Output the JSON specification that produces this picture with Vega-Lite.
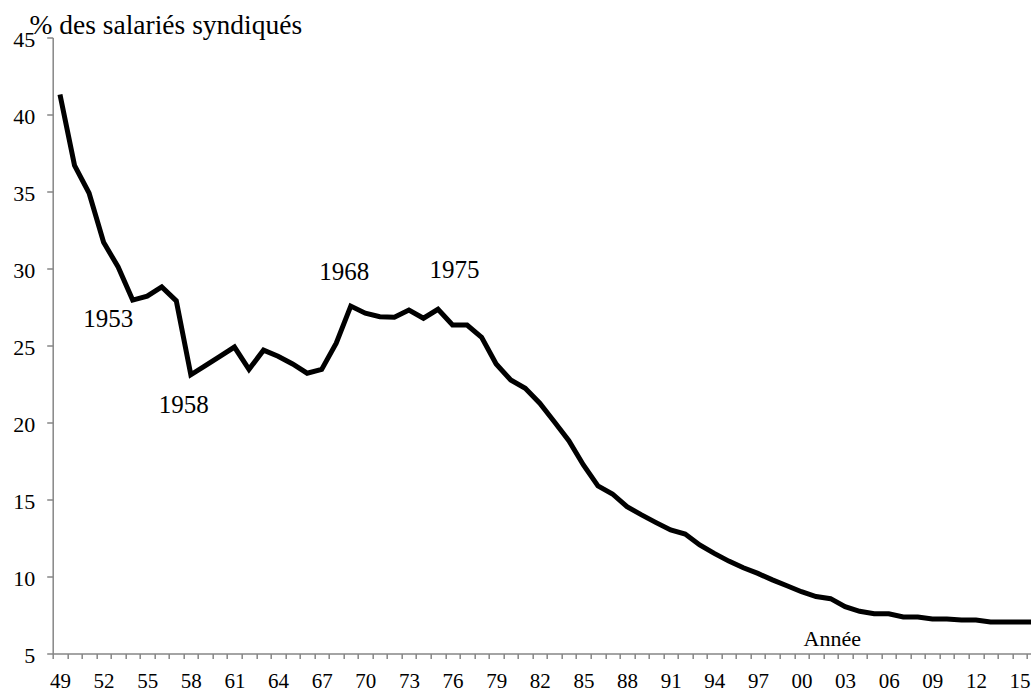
{
  "$schema": "https://vega.github.io/schema/vega-lite/v6.json",
  "autosize": {"type": "none"},
  "width": 978.3,
  "height": 616,
  "padding": {"left": 52.7, "top": 37.5, "right": 0, "bottom": 39.5},
  "background": "white",
  "config": {
    "view": {"stroke": null},
    "font": "'Liberation Serif', 'Times New Roman', serif"
  },
  "datasets": {
    "series": [
      {"year": 1949, "pct": 41.3}, {"year": 1950, "pct": 36.7}, {"year": 1951, "pct": 34.9},
      {"year": 1952, "pct": 31.7}, {"year": 1953, "pct": 30.1}, {"year": 1954, "pct": 27.95},
      {"year": 1955, "pct": 28.2}, {"year": 1956, "pct": 28.8}, {"year": 1957, "pct": 27.9},
      {"year": 1958, "pct": 23.1}, {"year": 1959, "pct": 23.7}, {"year": 1960, "pct": 24.3},
      {"year": 1961, "pct": 24.9}, {"year": 1962, "pct": 23.45}, {"year": 1963, "pct": 24.7},
      {"year": 1964, "pct": 24.3}, {"year": 1965, "pct": 23.8}, {"year": 1966, "pct": 23.2},
      {"year": 1967, "pct": 23.45}, {"year": 1968, "pct": 25.15}, {"year": 1969, "pct": 27.56},
      {"year": 1970, "pct": 27.1}, {"year": 1971, "pct": 26.87}, {"year": 1972, "pct": 26.83},
      {"year": 1973, "pct": 27.3}, {"year": 1974, "pct": 26.77}, {"year": 1975, "pct": 27.35},
      {"year": 1976, "pct": 26.33}, {"year": 1977, "pct": 26.33}, {"year": 1978, "pct": 25.53},
      {"year": 1979, "pct": 23.8}, {"year": 1980, "pct": 22.76}, {"year": 1981, "pct": 22.22},
      {"year": 1982, "pct": 21.25}, {"year": 1983, "pct": 20.05}, {"year": 1984, "pct": 18.82},
      {"year": 1985, "pct": 17.24}, {"year": 1986, "pct": 15.88}, {"year": 1987, "pct": 15.36},
      {"year": 1988, "pct": 14.53}, {"year": 1989, "pct": 14.0}, {"year": 1990, "pct": 13.5},
      {"year": 1991, "pct": 13.02}, {"year": 1992, "pct": 12.76}, {"year": 1993, "pct": 12.05},
      {"year": 1994, "pct": 11.5}, {"year": 1995, "pct": 11.0}, {"year": 1996, "pct": 10.57},
      {"year": 1997, "pct": 10.2}, {"year": 1998, "pct": 9.78}, {"year": 1999, "pct": 9.4},
      {"year": 2000, "pct": 9.01}, {"year": 2001, "pct": 8.7}, {"year": 2002, "pct": 8.56},
      {"year": 2003, "pct": 8.04}, {"year": 2004, "pct": 7.74}, {"year": 2005, "pct": 7.58},
      {"year": 2006, "pct": 7.58}, {"year": 2007, "pct": 7.37}, {"year": 2008, "pct": 7.37},
      {"year": 2009, "pct": 7.24}, {"year": 2010, "pct": 7.24}, {"year": 2011, "pct": 7.18},
      {"year": 2012, "pct": 7.18}, {"year": 2013, "pct": 7.05}, {"year": 2014, "pct": 7.05},
      {"year": 2015, "pct": 7.05}, {"year": 2016, "pct": 7.05}
    ],
    "notes": [
      {"year": 1953, "pct": 26.2, "label": "1953"},
      {"year": 1958, "pct": 20.6, "label": "1958"},
      {"year": 1968, "pct": 29.25, "label": "1968"},
      {"year": 1975, "pct": 29.4, "label": "1975"}
    ]
  },
  "encoding": {
    "x": {
      "field": "year",
      "type": "ordinal",
      "scale": {"type": "band", "paddingInner": 0, "paddingOuter": 0, "range": [0, 988.7]},
      "axis": {
        "title": "Année",
        "titleFontSize": 22,
        "titleFontWeight": "normal",
        "titleColor": "black",
        "titleX": 779,
        "titleY": -8,
        "titleAlign": "center",
        "titleBaseline": "alphabetic",
        "tickBand": "extent",
        "labelAngle": 0,
        "labelOverlap": false,
        "labelFontSize": 21,
        "labelColor": "black",
        "labelPadding": 12,
        "labelExpr": "(datum.value - 1949) % 3 == 0 ? substring(toString(datum.value), 2, 4) : ''",
        "domainColor": "#868686",
        "tickColor": "#868686",
        "tickSize": 5,
        "domainWidth": 1.5,
        "tickWidth": 1.5,
        "grid": false
      }
    },
    "y": {
      "field": "pct",
      "type": "quantitative",
      "scale": {"domain": [5, 45], "nice": false, "zero": false},
      "axis": {
        "values": [5, 10, 15, 20, 25, 30, 35, 40, 45],
        "title": "% des salariés syndiqués",
        "titleAngle": 0,
        "titleAlign": "left",
        "titleBaseline": "alphabetic",
        "titleX": -23.7,
        "titleY": -4,
        "titleFontSize": 27.5,
        "titleFontWeight": "normal",
        "titleColor": "black",
        "labelFontSize": 22,
        "labelColor": "black",
        "labelPadding": 12,
        "labelOffset": 2,
        "domainColor": "#868686",
        "tickColor": "#868686",
        "tickSize": 6,
        "domainWidth": 1.5,
        "tickWidth": 1.5,
        "grid": false
      }
    }
  },
  "layer": [
    {
      "data": {"name": "series"},
      "mark": {"type": "line", "color": "black", "strokeWidth": 5, "strokeJoin": "miter"}
    },
    {
      "data": {"name": "notes"},
      "transform": [{"filter": "datum.label == '1953'"}],
      "mark": {"type": "text", "fontSize": 25, "color": "black", "align": "center", "baseline": "alphabetic", "dx": -10},
      "encoding": {"text": {"field": "label"}}
    },
    {
      "data": {"name": "notes"},
      "transform": [{"filter": "datum.label == '1958'"}],
      "mark": {"type": "text", "fontSize": 25, "color": "black", "align": "center", "baseline": "alphabetic", "dx": -7},
      "encoding": {"text": {"field": "label"}}
    },
    {
      "data": {"name": "notes"},
      "transform": [{"filter": "datum.label == '1968'"}],
      "mark": {"type": "text", "fontSize": 25, "color": "black", "align": "center", "baseline": "alphabetic", "dx": 8},
      "encoding": {"text": {"field": "label"}}
    },
    {
      "data": {"name": "notes"},
      "transform": [{"filter": "datum.label == '1975'"}],
      "mark": {"type": "text", "fontSize": 25, "color": "black", "align": "center", "baseline": "alphabetic", "dx": 16.5},
      "encoding": {"text": {"field": "label"}}
    }
  ]
}
